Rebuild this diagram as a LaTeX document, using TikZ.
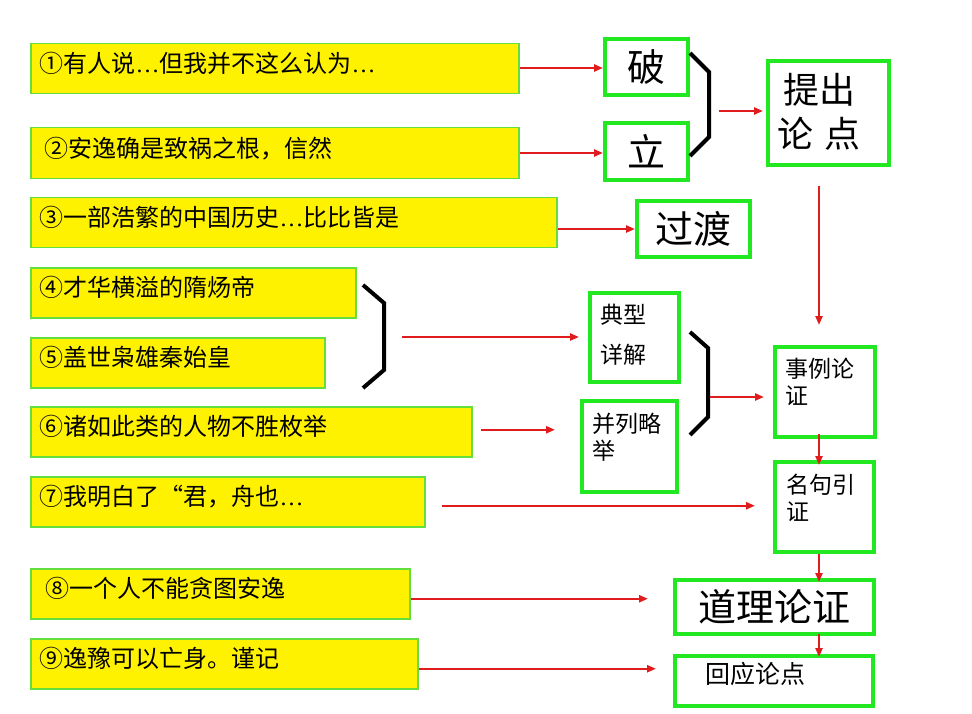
\documentclass[tikz,border=0pt]{standalone}
\usepackage{fontspec}
\setmainfont{Noto Sans CJK SC}
\newfontfamily\latf{Liberation Serif}
\usetikzlibrary{arrows.meta}
\definecolor{yb}{RGB}{100,222,60}
\definecolor{gb}{RGB}{34,232,34}
\definecolor{rd}{RGB}{225,28,28}
\newcommand\el{{\latf …}}
\newcommand\sk{\rule{0pt}{0.9em}}
\newcommand\tlbox[5]{\begin{minipage}[c][#2][t]{#1}\vspace*{#3}\setlength\leftskip{#4}#5\end{minipage}}
\begin{document}
\begin{tikzpicture}[x=1pt,y=-1pt,
  ybox/.style={draw=yb, line width=1.5pt, fill=yellow, anchor=north west, minimum height=50pt,
    inner xsep=9pt, inner ysep=0pt, text height=20pt, text depth=12pt, align=left,
    font=\fontsize{24pt}{28pt}\selectfont},
  gbox/.style={draw=gb, line width=4pt, inner sep=0pt, anchor=north west},
  bigt/.style={font=\fontsize{38pt}{44pt}\selectfont},
  midt/.style={font=\fontsize{23pt}{27pt}\selectfont},
  arr/.style={draw=rd, line width=2.2pt, -{Triangle[length=9pt,width=7pt]}},
  brk/.style={draw=black, line width=4pt}]
\useasboundingbox (0,0) rectangle (972,714);
\fill[white] (0,0) rectangle (972,714);

% yellow boxes
\node[ybox, text width=470pt] (b1) at (30,43) {①有人说\el 但我并不这么认为\el};
\node[ybox, text width=470pt, minimum height=51pt] (b2) at (30,127) {\hspace*{5pt}②安逸确是致祸之根，信然};
\node[ybox, text width=508pt] (b3) at (30,197) {③一部浩繁的中国历史\el 比比皆是};
\node[ybox, text width=307pt] (b4) at (30,267) {④才华横溢的隋炀帝};
\node[ybox, text width=276pt] (b5) at (30,337) {⑤盖世枭雄秦始皇};
\node[ybox, text width=423pt] (b6) at (30,406) {⑥诸如此类的人物不胜枚举};
\node[ybox, text width=376pt] (b7) at (30,476) {⑦我明白了“君，舟也\el};
\node[ybox, text width=361pt] (b8) at (30,568) {\hspace*{6pt}⑧一个人不能贪图安逸};
\node[ybox, text width=369pt] (b9) at (30,638) {⑨逸豫可以亡身。谨记};

% green boxes
\node[gbox, bigt, minimum width=83pt, minimum height=56pt] (po) at (603,37) {破};
\node[gbox, bigt, minimum width=83pt, minimum height=57pt] (li) at (603,121) {立};
\node[gbox, minimum width=121pt, minimum height=104pt, font=\fontsize{36pt}{44pt}\selectfont] (tc) at (766,59)
  {\tlbox{121pt}{104pt}{10pt}{9pt}{\hspace*{6pt}\sk 提出\\论\hspace{12pt}点}};
\node[gbox, bigt, minimum width=113pt, minimum height=56pt] (gd) at (635,199) {过渡};
\node[gbox, midt, minimum width=89pt, minimum height=89pt] (dx) at (588,291)
  {\tlbox{89pt}{89pt}{10pt}{10pt}{\sk 典型\\[13pt]详解}};
\node[gbox, midt, minimum width=95pt, minimum height=91pt] (bl) at (580,399)
  {\tlbox{95pt}{91pt}{11pt}{10pt}{\sk 并列略\\举}};
\node[gbox, midt, minimum width=100pt, minimum height=90pt] (sl) at (773,345)
  {\tlbox{100pt}{90pt}{10pt}{10pt}{\sk 事例论\\证}};
\node[gbox, midt, minimum width=99pt, minimum height=90pt] (mj) at (773,460)
  {\tlbox{99pt}{90pt}{11pt}{11pt}{\sk 名句引\\证}};
\node[gbox, bigt, minimum width=199pt, minimum height=54pt] (dl) at (673,578) {道理论证};
\node[gbox, minimum width=198pt, minimum height=50pt, font=\fontsize{25pt}{30pt}\selectfont] (hy) at (673,654)
  {\tlbox{198pt}{50pt}{5pt}{30pt}{\sk 回应论点}};

% brackets
\draw[brk] (690,53) -- (709,72) -- (709,137) -- (690,156);
\draw[brk] (363,285) -- (384,303) -- (384,370) -- (363,388);
\draw[brk] (690,332) -- (708,348) -- (708,417) -- (690,435);

\coordinate (k1) at (719,111);
\coordinate (k2) at (402,337);
\coordinate (k3) at (710,397);
\coordinate (vx) at (819,0);

% arrows
\draw[arr] ([yshift=-1pt]b1.east |- po) -- ([yshift=-1pt]po.west);
\draw[arr] ([yshift=-1.5pt]b2.east |- li) -- ([yshift=-1.5pt]li.west);
\draw[arr] (b3.east |- gd) -- (gd.west);
\draw[arr, shorten >=3pt] (k1) -- (k1 -| tc.west);
\draw[arr, shorten <=19pt, shorten >=20pt] (tc.south -| vx) -- (sl.north -| vx);
\draw[arr, shorten >=9pt] (k2) -- (k2 -| dx.west);
\draw[arr, shorten <=8pt, shorten >=25pt] ([yshift=2pt]b6.east) -- ([yshift=2pt]b6.east -| bl.west);
\draw[arr, shorten >=9pt] (k3) -- (k3 -| sl.west);
\draw[arr, shorten <=16pt, shorten >=18pt] ([yshift=-4pt]b7.east) -- ([yshift=-4pt]b7.east -| mj.west);
\draw[arr, shorten >=25pt] ([yshift=-5pt]b8.east) -- ([yshift=-5pt]b8.east -| dl.west);
\draw[arr, shorten >=17pt] ([yshift=-5pt]b9.east) -- ([yshift=-5pt]b9.east -| hy.west);
\draw[arr, shorten <=-5pt, shorten >=-5pt] (sl.south -| vx) -- (mj.north -| vx);
\draw[arr, shorten >=-4pt] (mj.south -| vx) -- (dl.north -| vx);
\draw[arr, shorten <=-2pt, shorten >=-3pt] (dl.south -| vx) -- (hy.north -| vx);
\end{tikzpicture}
\end{document}
